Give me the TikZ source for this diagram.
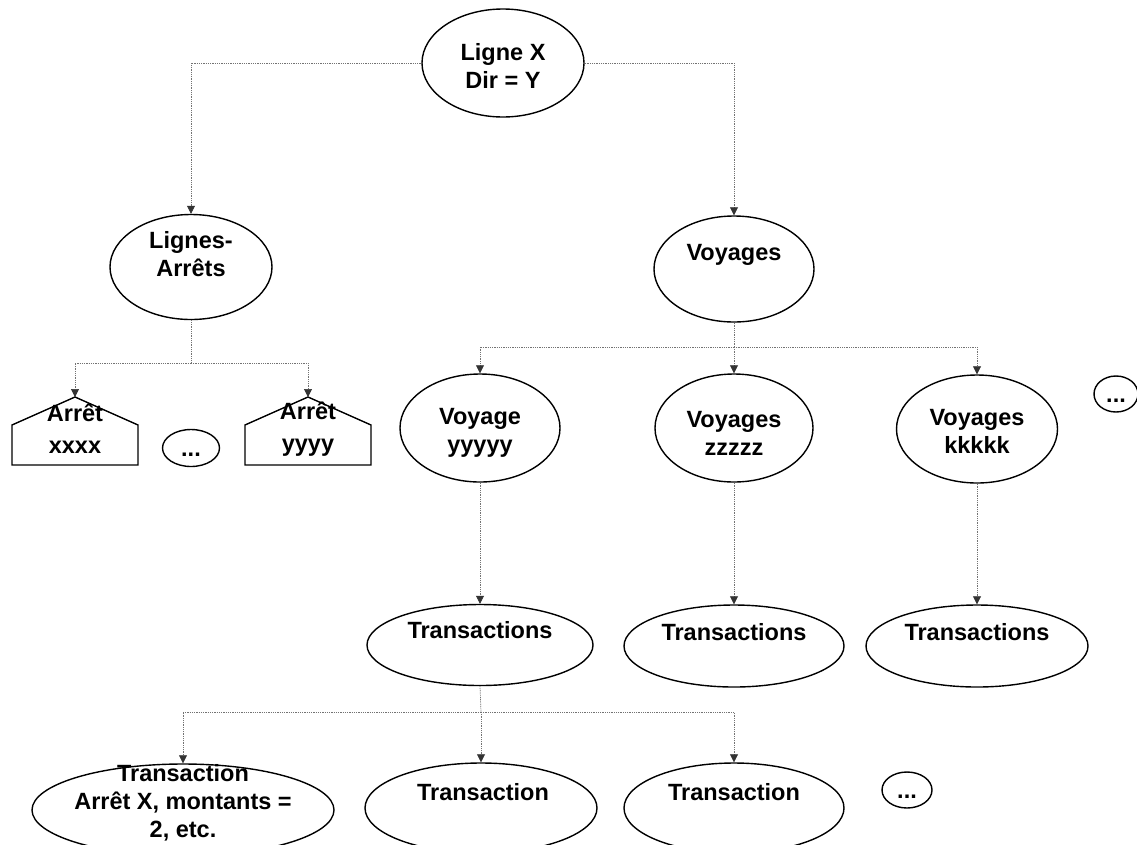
\documentclass[tikz,border=0pt]{standalone}
\usepackage{fontspec}
\setmainfont{Liberation Sans}
\usetikzlibrary{shapes.geometric,arrows.meta}
\begin{document}
\begin{tikzpicture}[x=1pt,y=-1pt,
  ell/.style={draw=black,line width=1.4pt,ellipse,inner sep=0pt},
  txt/.style={align=center,inner sep=0pt,font=\bfseries\fontsize{23.5}{28}\selectfont},
  house/.style={draw=black,line width=1.4pt,line join=miter},
  conn/.style={draw=black!55,line width=0.7pt,dash pattern=on 1pt off 0.8pt},
  arr/.style={conn,-{Triangle[length=8pt,width=8pt,color=black!80,fill=black!80]}}]
\clip (0,0) rectangle (1137,844);
\fill[white] (0,0) rectangle (1137,844);
% ellipses
\node[ell,minimum width=162pt,minimum height=108pt] (top) at (503,63) {};
\node[txt] (topt) at (503,66) {Ligne X\\Dir = Y};
\node[ell,minimum width=162pt,minimum height=105pt] (la) at (191,267) {};
\node[txt] (lat) at (191,254) {Lignes-\\Arrêts};
\node[ell,minimum width=160pt,minimum height=106pt] (voy) at (734,269) {};
\node[txt] (voyt) at (734,255) {Voyages};
% arrets
\coordinate (a1p) at (75,397);
\coordinate (a2p) at (308,397);
\draw[house] (12,465) -- (12,425) -- (a1p) -- (138,425) -- (138,465) -- cycle;
\draw[house] (245,465) -- (245,425) -- (a2p) -- (371,425) -- (371,465) -- cycle;
\node[txt,font=\bfseries\fontsize{23.5}{32}\selectfont] (a1) at (75,429) {Arrêt\\xxxx};
\node[txt,font=\bfseries\fontsize{23.5}{32}\selectfont] (a2) at (308,429) {Arrêt\\yyyy};
\node[ell,minimum width=57pt,minimum height=37pt] (da) at (191,448) {};
\node[txt] (dat) at (191,455) {...};
% voyages
\node[ell,minimum width=160pt,minimum height=108pt] (v1) at (480,428) {};
\node[txt] (v1t) at (480,433) {Voyage\\yyyyy};
\node[ell,minimum width=158pt,minimum height=108pt] (v2) at (734,428) {};
\node[txt] (v2t) at (734,433) {Voyages\\zzzzz};
\node[ell,minimum width=161pt,minimum height=108pt] (v3) at (977,429) {};
\node[txt] (v3t) at (977,431) {Voyages\\kkkkk};
\node[ell,minimum width=44pt,minimum height=36pt] (dr) at (1116,394) {};
\node[txt] (drt) at (1116,401) {...};
% transactions
\node[ell,minimum width=226pt,minimum height=81pt] (t1) at (480,645) {};
\node[txt] (t1t) at (480,630) {Transactions};
\node[ell,minimum width=220pt,minimum height=82pt] (t2) at (734,646) {};
\node[txt] (t2t) at (734,632) {Transactions};
\node[ell,minimum width=222pt,minimum height=82pt] (t3) at (977,646) {};
\node[txt] (t3t) at (977,632) {Transactions};
% bottom
\node[ell,minimum width=302pt,minimum height=92pt] (c1) at (183,810) {};
\node[txt] (c1t) at (183,803) {Transaction\\Arrêt X, montants =\\2, etc.};
\node[ell,minimum width=232pt,minimum height=90pt] (c2) at (481,808) {};
\node[txt] (c2t) at (483,792) {Transaction};
\node[ell,minimum width=220pt,minimum height=90pt] (c3) at (734,808) {};
\node[txt] (c3t) at (734,792) {Transaction};
\node[ell,minimum width=50pt,minimum height=36pt] (db) at (907,790) {};
\node[txt] (dbt) at (907,797) {...};
% connectors
\draw[arr] (top.west) -| (la.north);
\draw[arr] (top.east) -| (voy.north);
\coordinate (j1) at (191,363);
\draw[conn] (la.south) -- (j1);
\draw[arr] (j1) -| (a1p);
\draw[arr] (j1) -| (a2p);
\coordinate (j2) at (734,347);
\draw[conn] (voy.south) -- (j2);
\draw[arr] (j2) -| (v1.north);
\draw[arr] (j2) -- (v2.north);
\draw[arr] (j2) -| (v3.north);
\draw[arr] (v1.south) -- (t1.north);
\draw[arr] (v2.south) -- (t2.north);
\draw[arr] (v3.south) -- (t3.north);
\coordinate (j3) at (481,712);
\draw[conn] (t1.south) -- (j3);
\draw[arr] (j3) -| (c1.north);
\draw[arr] (j3) -- (c2.north);
\draw[arr] (j3) -| (c3.north);
\end{tikzpicture}
\end{document}
